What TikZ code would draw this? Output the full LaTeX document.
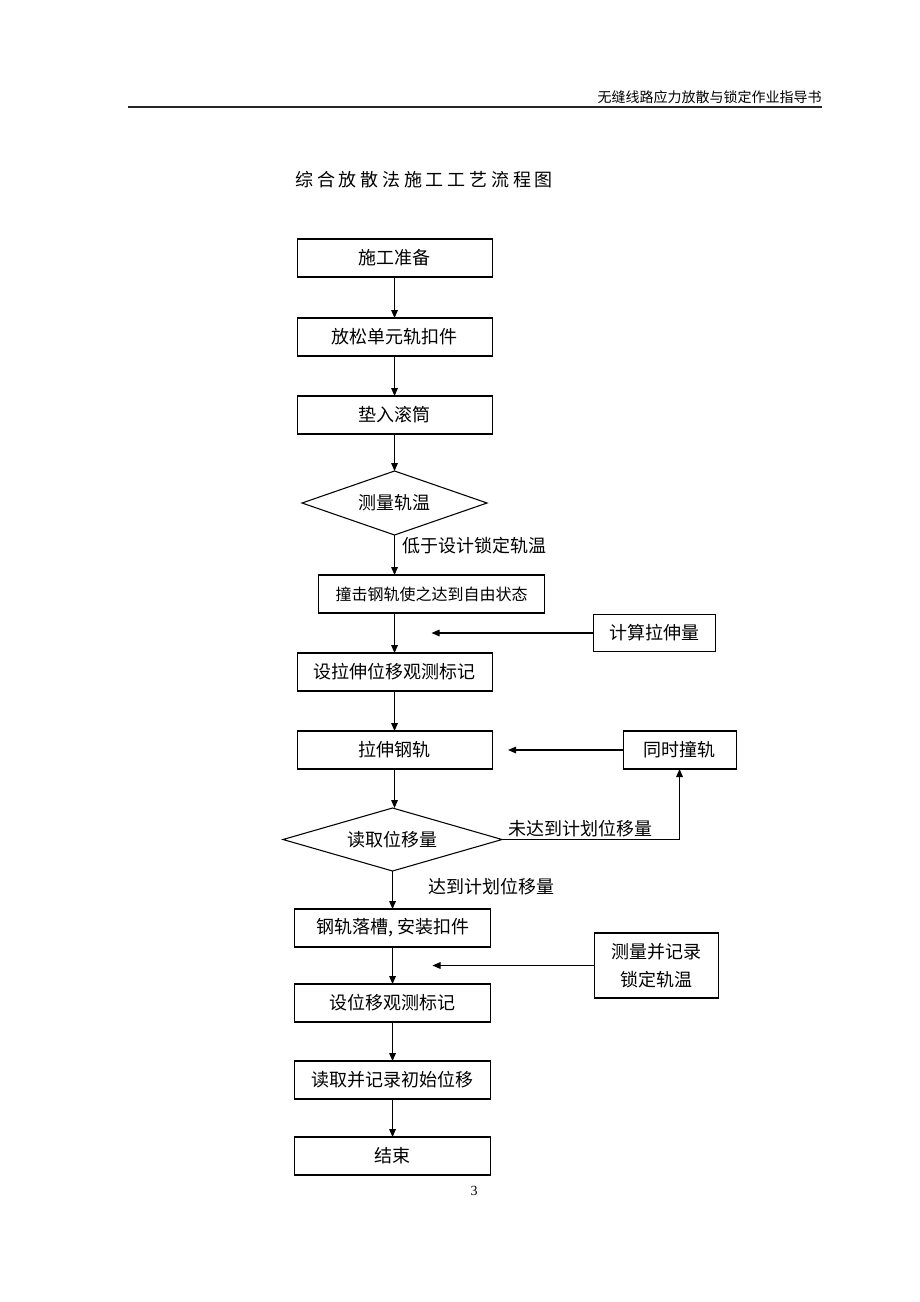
\documentclass[tikz,border=0pt]{standalone}
\usepackage{fontspec}
\setmainfont{Liberation Serif}
\newfontfamily\cjk{Noto Sans CJK SC}
\usetikzlibrary{shapes.geometric, arrows.meta, positioning, calc}

\begin{document}
\begin{tikzpicture}
    \tikzset{
        stage/.style = {rectangle, draw=black, line width=0.8pt, outer sep=0pt, minimum width=146.25pt, minimum height=28.5pt, inner sep=2pt, font=\cjk\fontsize{13.5}{21}\selectfont},
        note/.style = {inner sep=0pt, font=\cjk\fontsize{13.5}{16}\selectfont},
        check/.style = {diamond, draw=black, line width=0.8pt, outer sep=0pt, inner sep=0pt, label={[note]center:#1}},
        line/.style = {draw=black, line width=0.8pt, -{Triangle[length=6pt, width=5pt]}}
    }

    \useasboundingbox (0,0) rectangle (690pt,-976.5pt);

    % page head
    \node[anchor=east, inner sep=0pt, font=\cjk\fontsize{10.5}{12}\selectfont](header) at (616.5pt,-72.75pt){无缝线路应力放散与锁定作业指导书};
    \coordinate (rule_l) at (96pt,-80.25pt);
    \coordinate (rule_r) at (616.5pt,-80.25pt);
    \draw[line width=1pt, black!85] (rule_l) -- (rule_r);

    \node[anchor=west, inner sep=0pt, font=\cjk\fontsize{13.5}{16}\selectfont\addfontfeature{LetterSpace=21}](title) at (221.25pt,-135pt){综合放散法施工工艺流程图};

    % main column
    \node[stage](s_1) at (295.9pt,-193.5pt){施工准备};
    \node[stage](s_2)[below = 30.75pt of s_1]{放松单元轨扣件};
    \node[stage](s_3)[below = 30pt of s_2]{垫入滚筒};
    \node[check=测量轨温, minimum width=138.75pt, minimum height=48pt](c_1)[below = 27.75pt of s_3]{};
    \node[stage, minimum width=169.5pt, font=\cjk\fontsize{12}{14}\selectfont](s_4)[below = 30pt of c_1, xshift=27.75pt]{撞击钢轨使之达到自由状态};
    \node[stage](s_5)[below = 30pt of s_4, xshift=-27.75pt]{设拉伸位移观测标记};
    \node[stage](s_6)[below = 30pt of s_5]{拉伸钢轨};
    \node[check=读取位移量, minimum width=164.25pt, minimum height=47.25pt](c_2)[below = 29.25pt of s_6, xshift=-1.5pt]{};
    \node[stage, minimum width=147pt](s_7)[below = 28.5pt of c_2]{钢轨落槽, 安装扣件};
    \node[stage, minimum width=147pt](s_8)[below = 27.75pt of s_7]{设位移观测标记};
    \node[stage, minimum width=147pt](s_9)[below = 29.25pt of s_8]{读取并记录初始位移};
    \node[stage, minimum width=147pt](s_10)[below = 28.5pt of s_9]{结束};

    % side inputs
    \coordinate (m_1) at ($(s_4.south)!0.5!(s_4.south |- s_5.north)$);
    \coordinate (m_2) at ($(s_7.south)!0.5!(s_8.north) + (30pt,0)$);
    \coordinate (m_3) at ([xshift=12pt]s_6.east);

    \node[stage, minimum width=91.5pt, minimum height=27.75pt](i_1)[right = 121.5pt of m_1]{计算拉伸量};
    \node[stage, minimum width=84.75pt](i_2)[right = 98.25pt of s_6]{同时撞轨};
    \node[stage, minimum width=93pt, minimum height=48.75pt, align=center](i_3)[right = 121.5pt of m_2]{测量并记录\\锁定轨温};

    \path [line] (s_1) -- (s_2);
    \path [line] (s_2) -- (s_3);
    \path [line] (s_3) -- (c_1);
    \path [line] (c_1.south) -- (c_1.south |- s_4.north);
    \path [line] (s_5.north |- s_4.south) -- (s_5.north);
    \path [line] (s_5) -- (s_6);
    \path [line] (s_6.south) -- (s_6.south |- c_2.north);
    \path [line] (c_2) -- (c_2.south |- s_7.north);
    \path [line] (s_7.south) -- (s_7.south |- s_8.north);
    \path [line] (s_8.south) -- (s_8.south |- s_9.north);
    \path [line] (s_9.south) -- (s_9.south |- s_10.north);

    \path [line] (i_1) -- (m_1);
    \path [line] (i_2) -- (m_3);
    \path [line] (i_3) -- (m_2);
    \path [line] (c_2.east) -| (i_2.south);

    \node[note, anchor=west](l_1) at ([xshift=6pt, yshift=-8.25pt]c_1.south){低于设计锁定轨温};
    \node[note, anchor=west](l_2) at ([xshift=4.5pt, yshift=8.25pt]c_2.east){未达到计划位移量};
    \node[note, anchor=west](l_3) at ([xshift=27pt, yshift=-12pt]c_2.south){达到计划位移量};

    \node[inner sep=0pt, font=\fontsize{10.5}{12}\selectfont](pagenum) at (355.5pt,-893.25pt){3};
\end{tikzpicture}
\end{document}
